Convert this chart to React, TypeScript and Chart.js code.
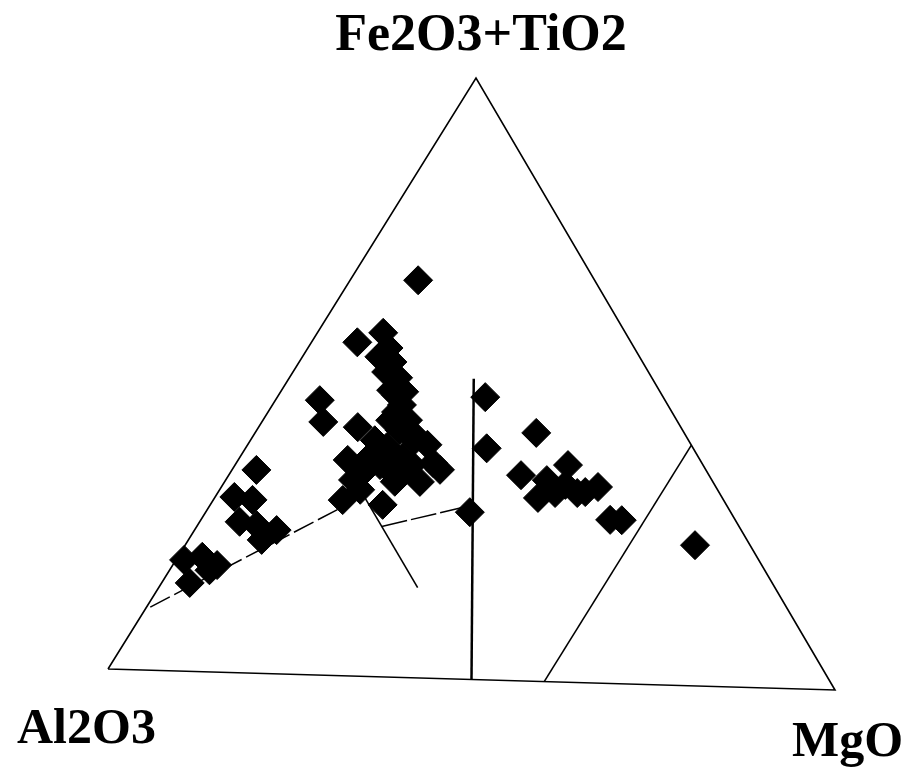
import React, { useEffect, useRef } from "react";
import { Chart, registerables } from "chart.js";

Chart.register(...registerables);

// Ternary vertex labels
const vertexLabels = ["Fe2O3+TiO2", "Al2O3", "MgO"];

// Sample compositions (percent); Al2O3 = 100 - Fe - Mg
const sampleFe = [
  66.1, 55.5, 57.2, 54.7, 52.4, 50.7, 49.8, 47.7, 47.5, 45.3, 44.1, 42.8, 41.1,
  38.8, 35.8, 32.6, 35.9, 41.4, 29.2, 28.6, 36.5, 38.2, 36.6, 34.0, 33.8, 32.6,
  39.5, 35.4, 34.4, 39.3, 45.7, 42.1, 47.0, 38.5, 27.8, 33.8, 29.2, 28.8, 25.1,
  24.6, 23.9, 22.2, 18.5, 19.1, 17.8, 14.7, 16.9, 41.3, 34.2, 36.1, 33.5, 30.5,
  31.4, 31.7, 32.6, 31.5, 27.2, 27.2, 23.4, 32.8,
  53.2, 46.9, 42.7, 40.8, 35.2, 32.5, 34.7, 31.0,
];
const sampleMg = [
  9.2, 6.2, 8.9, 10.9, 12.6, 12.6, 14.7, 14.8, 16.7, 17.5, 17.3, 19.6, 19.3,
  24.3, 26.6, 26.4, 14.8, 13.4, 17.5, 23.3, 17.5, 19.0, 22.0, 23.4, 17.9, 17.2,
  22.2, 23.9, 21.3, 16.8, 6.0, 8.3, 28.1, 32.6, 35.7, 3.3, 2.6, 5.3, 5.4,
  8.0, 11.1, 9.9, 1.1, 3.3, 6.0, 3.8, 5.4, 38.0, 39.5, 45.0, 43.4, 43.7,
  45.6, 49.6, 50.9, 48.6, 55.3, 56.9, 68.9, 46.3,
  10.4, 15.9, 17.2, 21.1, 19.6, 23.0, 28.1, 19.0,
];

// Reference lines as [Fe, Mg] composition pairs
const frameLine = [[0, 0], [100, 0], [0, 100], [0, 0]];
const alEqMgLine = [[0, 50], [50, 25]];
const mg60Line = [[0, 60], [40, 60]];
const dashedTrend = [[10.5, 0.5], [30, 20]];
const al50Line = [[30, 20], [15, 35]];
const connectorLine = [[25, 25], [29, 35.5]];

// Layout: where the three corners sit on the page (style, not data)
const CORNER_AL = { x: 108, y: 669 };
const CORNER_FE = { x: 476, y: 78 };
const CORNER_MG = { x: 835, y: 690 };

function toXY(fe: number, mg: number) {
  const f = fe / 100;
  const m = mg / 100;
  const a = 1 - f - m;
  return {
    x: CORNER_AL.x * a + CORNER_FE.x * f + CORNER_MG.x * m,
    y: CORNER_AL.y * a + CORNER_FE.y * f + CORNER_MG.y * m,
  };
}

const labelPlugin = {
  id: "vertexLabels",
  afterDraw(chart: any) {
    const ctx = chart.ctx;
    ctx.save();
    ctx.fillStyle = "#000";
    ctx.textBaseline = "alphabetic";
    ctx.font = 'bold 52px "Liberation Serif", "DejaVu Serif", serif';
    ctx.textAlign = "center";
    ctx.fillText(vertexLabels[0], 481, 50);
    ctx.font = 'bold 50px "Liberation Serif", "DejaVu Serif", serif';
    ctx.textAlign = "left";
    ctx.fillText(vertexLabels[1], 17, 743);
    ctx.fillText(vertexLabels[2], 792, 756);
    ctx.restore();
  },
};

export default function App() {
  const ref = useRef<HTMLCanvasElement | null>(null);
  useEffect(() => {
    document.body.style.margin = "0";
    document.body.style.background = "#fff";
    if (!ref.current) return;
    const lineDs = (pts: number[][], width: number, dash: number[] = []) => ({
      data: pts.map(([f, m]) => toXY(f, m)),
      showLine: true,
      borderColor: "#000",
      borderWidth: width,
      borderDash: dash,
      pointRadius: 0,
      fill: false,
      order: 2,
      tension: 0,
      clip: false,
    });
    const chart = new Chart(ref.current, {
      type: "scatter",
      data: {
        datasets: [
          {
            data: sampleFe.map((f, i) => toXY(f, sampleMg[i])),
            pointStyle: "rectRot",
            pointRadius: 14.5,
            backgroundColor: "#000",
            borderColor: "#000",
            borderWidth: 1,
            showLine: false,
            order: 1,
            clip: false,
          } as any,
          lineDs(frameLine, 1.6),
          lineDs(alEqMgLine, 2.5),
          lineDs(mg60Line, 1.6),
          lineDs(dashedTrend, 1.5, [22, 5]),
          lineDs(al50Line, 1.6),
          lineDs(connectorLine, 1.5, [26, 4]),
        ],
      },
      options: {
        responsive: false,
        animation: false,
        events: [],
        layout: { padding: 0, autoPadding: false },
        plugins: {
          legend: { display: false },
          tooltip: { enabled: false },
          title: { display: false },
        },
        scales: {
          x: { type: "linear", min: 0, max: 912, display: false },
          y: { type: "linear", min: 0, max: 771, reverse: true, display: false },
        },
      },
      plugins: [labelPlugin],
    });
    return () => chart.destroy();
  }, []);
  return (
    <canvas ref={ref} width={912} height={771} style={{ display: "block" }} />
  );
}
